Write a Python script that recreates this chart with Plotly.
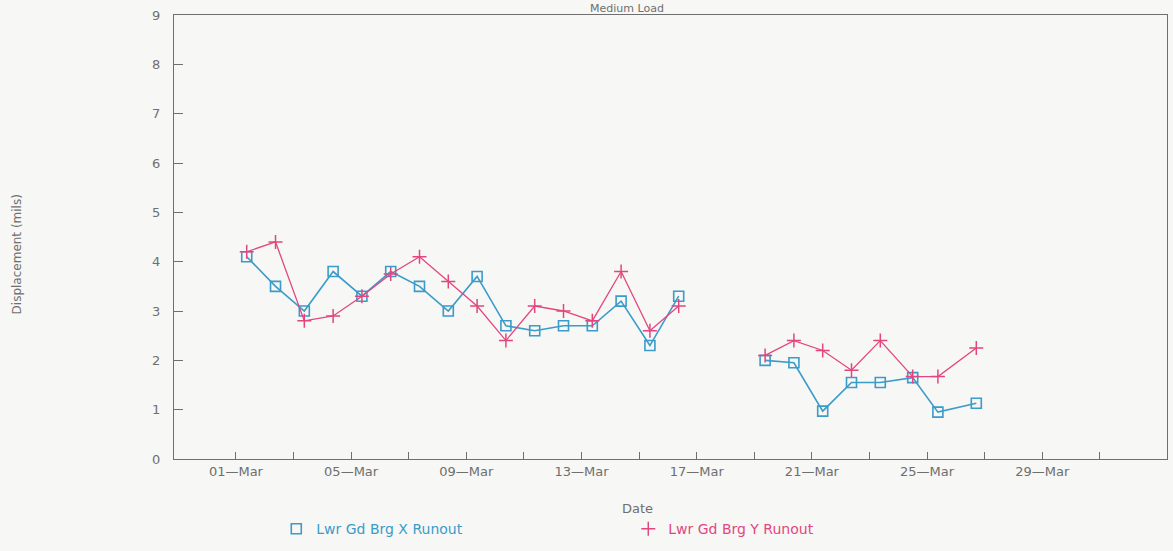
import plotly.graph_objects as go
import pandas as pd

# ---- data ----
dates = [
    "1999-03-01 09:00", "1999-03-02 09:00", "1999-03-03 09:00", "1999-03-04 09:00",
    "1999-03-05 09:00", "1999-03-06 09:00", "1999-03-07 09:00", "1999-03-08 09:00",
    "1999-03-09 09:00", "1999-03-10 09:00", "1999-03-11 09:00", "1999-03-12 09:00",
    "1999-03-13 09:00", "1999-03-14 09:00", "1999-03-15 09:00", "1999-03-16 09:00",
    "1999-03-17 09:00",
    "1999-03-19 09:00", "1999-03-20 09:00", "1999-03-21 09:00", "1999-03-22 09:00",
    "1999-03-23 09:00", "1999-03-24 12:00", "1999-03-25 09:00", "1999-03-26 17:00",
]
x_runout = [4.1, 3.5, 3.0, 3.8, 3.3, 3.8, 3.5, 3.0, 3.7, 2.7, 2.6, 2.7, 2.7, 3.2, 2.3, 3.3,
            None,
            2.0, 1.95, 0.97, 1.55, 1.55, 1.65, 0.95, 1.13]
y_runout = [4.2, 4.4, 2.8, 2.9, 3.3, 3.75, 4.1, 3.6, 3.1, 2.4, 3.1, 3.0, 2.8, 3.8, 2.6, 3.1,
            None,
            2.1, 2.4, 2.2, 1.8, 2.4, 1.67, 1.67, 2.25]

tick_dates = ["1999-03-01", "1999-03-05", "1999-03-09", "1999-03-13",
              "1999-03-17", "1999-03-21", "1999-03-25", "1999-03-29"]
tick_labels = ["01—Mar", "05—Mar", "09—Mar", "13—Mar",
               "17—Mar", "21—Mar", "25—Mar", "29—Mar"]
y_ticks = [0, 1, 2, 3, 4, 5, 6, 7, 8, 9]

series_names = ["Lwr Gd Brg X Runout", "Lwr Gd Brg Y Runout"]

BLUE = "#3b9bc9"
PINK = "#e2467f"
GRAY = "#6f6f6f"
FONT = "DejaVu Sans"

fig = go.Figure()

fig.add_trace(go.Scatter(
    x=pd.to_datetime(dates), y=x_runout, mode="lines+markers",
    line=dict(color=BLUE, width=1.6),
    marker=dict(symbol="square-open", size=10, color=BLUE, line=dict(width=1.6)),
    connectgaps=False, showlegend=False,
))
fig.add_trace(go.Scatter(
    x=pd.to_datetime(dates), y=y_runout, mode="lines+markers",
    line=dict(color=PINK, width=1.3),
    marker=dict(symbol="cross-thin-open", size=10, color=PINK, line=dict(width=1.5, color=PINK)),
    connectgaps=False, showlegend=False,
))

# legend-only entries (markers only, as in the original legend)
fig.add_trace(go.Scatter(
    x=[None], y=[None], mode="markers",
    name=f"<span style='color:{BLUE}'>{series_names[0]}</span>",
    marker=dict(symbol="square-open", size=10, color=BLUE, line=dict(width=1.6)),
))
fig.add_trace(go.Scatter(
    x=[None], y=[None], mode="markers",
    name=f"<span style='color:{PINK}'>{series_names[1]}</span>",
    marker=dict(symbol="cross-thin-open", size=10, color=PINK, line=dict(width=1.5, color=PINK)),
))

x_start = pd.Timestamp("1999-03-01") - pd.Timedelta(days=2.15)
x_end = pd.Timestamp("1999-03-01") + pd.Timedelta(days=32.33)
minor_ticks = pd.date_range("1999-03-01", "1999-03-31", freq="2D")

fig.update_layout(
    width=1173, height=551,
    margin=dict(l=174, r=6, t=15, b=81),
    paper_bgcolor="#f7f7f5",
    plot_bgcolor="#f7f7f5",
    font=dict(family=FONT, color=GRAY, size=13),
    showlegend=True,
    legend=dict(
        orientation="h", x=0.103, xanchor="left", y=-0.158, yanchor="middle",
        bgcolor="rgba(0,0,0,0)", font=dict(size=14, family=FONT),
        entrywidth=307, entrywidthmode="pixels", itemwidth=30,
    ),
    xaxis=dict(
        type="date", range=[x_start, x_end],
        tickmode="array", tickvals=pd.to_datetime(tick_dates), ticktext=tick_labels,
        ticks="inside", ticklen=7, tickcolor=GRAY, tickwidth=1,
        minor=dict(tickmode="array", tickvals=minor_ticks,
                   ticks="inside", ticklen=7, tickcolor=GRAY, showgrid=False),
        showline=True, linecolor=GRAY, linewidth=1.2, mirror=True,
        showgrid=False, zeroline=False,
        tickfont=dict(size=13, color=GRAY),
    ),
    yaxis=dict(
        range=[0, 9], tickmode="array", tickvals=y_ticks,
        ticks="inside", ticklen=9, tickcolor=GRAY, tickwidth=1,
        showline=True, linecolor=GRAY, linewidth=1.2, mirror=True,
        showgrid=False, zeroline=False,
        ticklabelstandoff=10,
        tickfont=dict(size=13, color=GRAY),
    ),
    annotations=[
        dict(text="Medium Load", xref="paper", yref="paper", x=0.456, y=1.033,
             xanchor="center", yanchor="top", showarrow=False,
             font=dict(size=11, color=GRAY, family=FONT)),
        dict(text="Date", xref="paper", yref="paper", x=0.467, y=-0.112,
             xanchor="center", yanchor="middle", showarrow=False,
             font=dict(size=13, color=GRAY, family=FONT)),
        dict(text="Displacement (mils)", xref="paper", yref="paper", x=-0.158, y=0.461,
             xanchor="center", yanchor="middle", textangle=-90, showarrow=False,
             font=dict(size=12, color=GRAY, family=FONT)),
    ],
)

fig.write_html(
    "out.html",
    config={"displayModeBar": False},
    post_script="document.body.style.margin='0';",
)
